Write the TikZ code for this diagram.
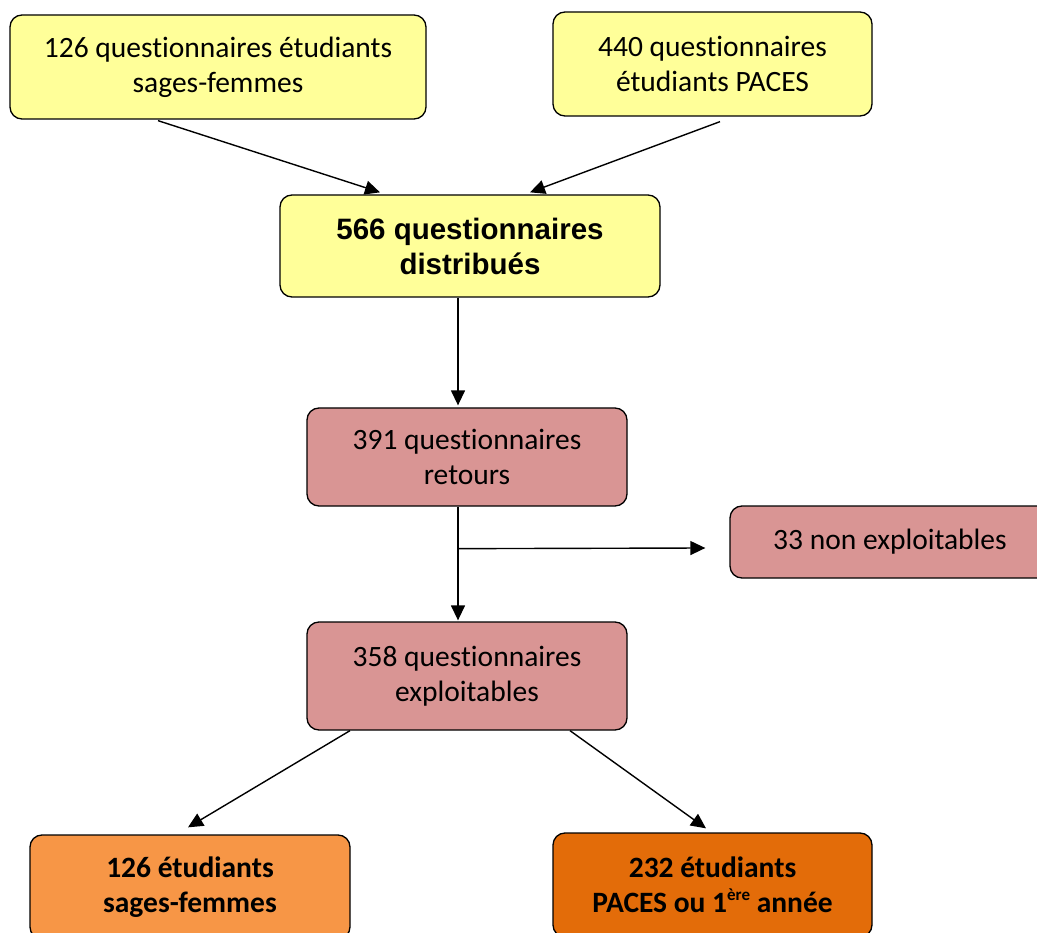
\documentclass[tikz,border=0pt]{standalone}
\usepackage{fontspec}
\setmainfont{Carlito}[Ligatures=NoCommon]
\newfontfamily\arialfont{Liberation Sans}
\usetikzlibrary{arrows.meta,calc}
\definecolor{paleyellow}{HTML}{FFFF99}
\definecolor{rosebox}{HTML}{D99594}
\definecolor{orangebox}{HTML}{F79646}
\definecolor{darkorangebox}{HTML}{E36C09}
\newcommand{\supexp}[1]{\raisebox{12pt}{\fontsize{17}{17}\selectfont #1}}
\begin{document}
\begin{tikzpicture}[x=1pt,y=-1pt,
  box/.style={draw=black, line width=1.3pt, rounded corners=12pt, align=center,
    inner sep=0pt, font=\fontsize{29.5}{35}\selectfont},
  boldbox/.style={box, font=\bfseries\fontsize{29.5}{35}\selectfont},
  arr/.style={-{Triangle[length=15pt,width=14pt]}, line width=1.4pt}]
\useasboundingbox (0,0) rectangle (1037,933);
\clip (0,0) rectangle (1037,933);

% source questionnaires
\node[box, fill=paleyellow, minimum width=416pt, minimum height=104pt] (q126) at (218,67)
  {126 questionnaires étudiants\\sages-femmes};
\node[box, fill=paleyellow, minimum width=319pt, minimum height=104pt] (q440) at (712.5,64)
  {440 questionnaires\\étudiants PACES};
\node[box, fill=paleyellow, minimum width=380pt, minimum height=102pt,
  font=\arialfont\bfseries\fontsize{29.5}{35}\selectfont] (q566) at (470,246)
  {566 questionnaires\\distribués};

% returned and usable questionnaires
\node[box, fill=rosebox, minimum width=320pt, minimum height=98pt] (q391) at (467,457)
  {391 questionnaires\\retours};
\node[box, fill=rosebox, minimum width=320pt, minimum height=72pt] (q33) at (890,542)
  {33 non exploitables};
\node[box, fill=rosebox, minimum width=320pt, minimum height=108pt] (q358) at (467,676)
  {358 questionnaires\\exploitables};

% final groups
\node[boldbox, fill=orangebox, minimum width=320pt, minimum height=104pt] (sf) at (190,887)
  {126 étudiants\\sages-femmes};
\node[boldbox, fill=darkorangebox, minimum width=319pt, minimum height=104pt] (paces) at (712.5,885)
  {232 étudiants\\PACES ou 1\supexp{ère} année};

% connectors
\draw[arr] ($(q126.south)+(-60,1)$) -- ($(q566.north)+(-90,-2)$);
\draw[arr] ($(q440.south)+(7.5,5)$) -- ($(q566.north)+(60,-2)$);
\draw[arr] ($(q566.south)+(-12,0)$) -- ($(q391.north)+(-9,-2)$);
\draw[arr] ($(q391.south)+(-9,0)$) -- ($(q358.north)+(-9,-1)$);
\coordinate (split) at ($(q391.south)+(-9,42)$);
\draw[arr] (split) -- ($(q33.west)+(-24,6)$);
\draw[arr] ($(q358.south)+(-117,0)$) -- ($(sf.north)+(-2,-7)$);
\draw[arr] ($(q358.south)+(103,0)$) -- ($(paces.north)+(-6.5,-4)$);
\end{tikzpicture}
\end{document}
